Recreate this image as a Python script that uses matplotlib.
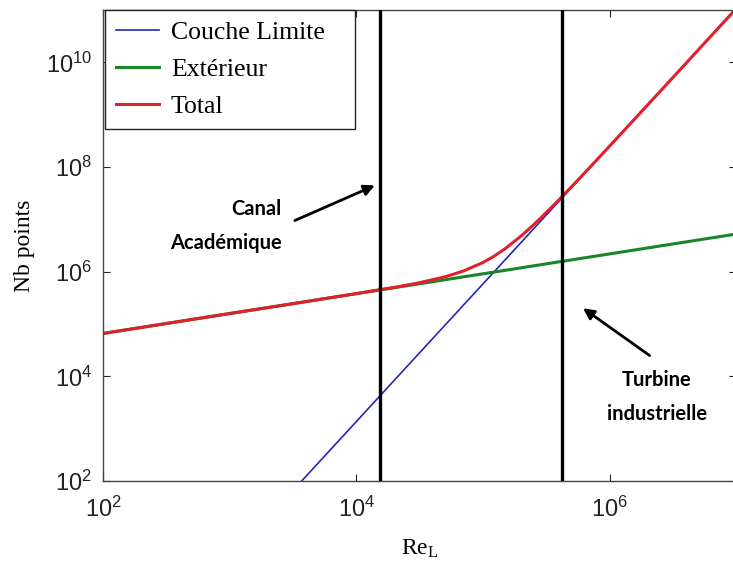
import numpy as np
import matplotlib
matplotlib.use("Agg")
import matplotlib.pyplot as plt
from matplotlib.ticker import FixedLocator, FuncFormatter, NullLocator

# --- data (log-log) ---
re_couche = [3.7e3, 1e7]
nb_couche = [1e2, 1.07e11]

re_ext = [1e2, 1e7]
nb_ext = [6.6e4, 5.25e6]

re_total = [1e2, 1e3, 3e3, 1e4, 2e4, 3e4, 5e4, 7e4, 1e5, 1.2e5, 1.5e5,
            2e5, 2.5e5, 3e5, 4e5, 6e5, 1e6, 3e6, 1e7]
nb_total = [6.6e4, 1.59e5, 2.40e5, 3.82e5, 5.03e5, 6.0e5, 7.96e5, 1.03e6,
            1.50e6, 1.92e6, 2.76e6, 4.80e6, 7.79e6, 1.19e7, 2.39e7, 6.67e7,
            2.51e8, 4.48e9, 1.07e11]

re_marks = [1.53e4, 4.2e5]
labels = ["Couche Limite", "Extérieur", "Total"]
xticks = [1e2, 1e4, 1e6]
yticks = [1e2, 1e4, 1e6, 1e8, 1e10]

plt.rcParams['font.family'] = ['Liberation Sans', 'DejaVu Sans']
plt.rcParams['mathtext.default'] = 'regular'

fig = plt.figure(figsize=(7.33, 5.72), dpi=100)
ax = fig.add_axes([0.1405, 0.159, 0.864, 0.8235])

ax.plot(re_couche, nb_couche, color='#2626b4', lw=1.2, label=labels[0])
ax.plot(re_ext, nb_ext, color='#17872a', lw=2.2, label=labels[1])
ax.plot(re_total, nb_total, color='#e0202a', lw=2.2, label=labels[2])
for xm in re_marks:
    ax.axvline(xm, color='black', lw=2.4, zorder=4)

ax.set_xscale('log')
ax.set_yscale('log')
ax.set_xlim(1e2, 1e7)
ax.set_ylim(1e2, 1e11)

# ticks: powers of ten only, drawn inward on all four sides
fmt = FuncFormatter(lambda v, p: r"$10^{%d}$" % round(np.log10(v)))
ax.xaxis.set_major_locator(FixedLocator(xticks))
ax.yaxis.set_major_locator(FixedLocator(yticks))
ax.xaxis.set_minor_locator(NullLocator())
ax.yaxis.set_minor_locator(NullLocator())
ax.xaxis.set_major_formatter(fmt)
ax.yaxis.set_major_formatter(fmt)
ax.tick_params(direction='in', length=5, width=0.8, labelsize=17,
               top=True, right=True, colors='#222222')
ax.tick_params(axis='x', pad=11)
ax.tick_params(axis='y', pad=8)
for s in ax.spines.values():
    s.set_color('#444444')
    s.set_linewidth(1.0)

ax.set_xlabel(r"Re$_\mathregular{L}$", family='Liberation Serif', fontsize=17, labelpad=12)
ax.set_ylabel("Nb points", family='Liberation Serif', fontsize=17, labelpad=8)

leg = ax.legend(loc='upper left', bbox_to_anchor=(0.003, 1.0, 0.395, 0.0),
                mode='expand', borderaxespad=0, fancybox=False,
                prop={'family': 'Liberation Serif', 'size': 18.5},
                handlelength=1.7, handletextpad=0.45, labelspacing=0.55,
                borderpad=0.42, framealpha=1)
leg.get_frame().set_edgecolor('#222222')
leg.get_frame().set_linewidth(1.0)

# annotations
arrow = dict(arrowstyle='-|>', color='black', lw=2, mutation_scale=16,
             shrinkA=0, shrinkB=0)
ax.annotate("", xy=(1.40e4, 4.45e7), xytext=(3.27e3, 9.5e6), arrowprops=arrow)
ax.annotate("", xy=(6.17e5, 2.0e5), xytext=(2.07e6, 2.5e4), arrowprops=arrow)
ax.text(2.57e3, 7.4e6, "Canal\nAcadémique", ha='right', va='center',
        family='Lato', weight='bold', fontsize=14.5, linespacing=1.85)
ax.text(2.36e6, 4.0e3, "Turbine\nindustrielle", ha='center', va='center',
        family='Lato', weight='bold', fontsize=14.5, linespacing=1.85)

fig.savefig("out.png", dpi=100)
